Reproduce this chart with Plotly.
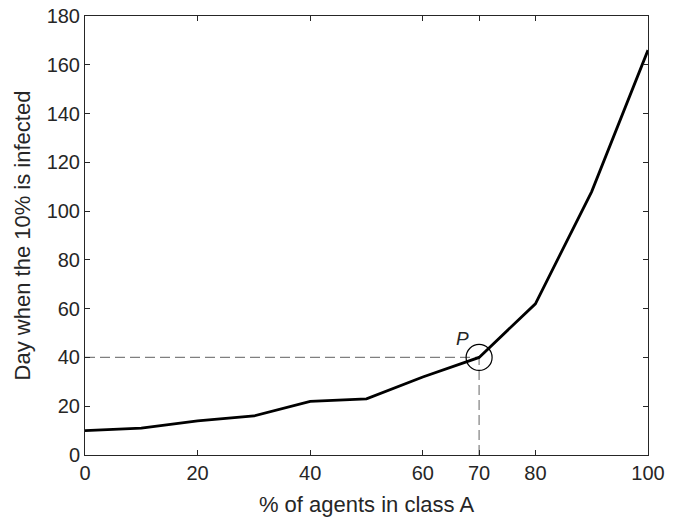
import plotly.graph_objects as go

x_pct = [0, 10, 20, 30, 40, 50, 60, 70, 80, 90, 100]
day_infected = [10, 11, 14, 16, 22, 23, 32, 40, 62, 108, 166]
x_ticks = [0, 20, 40, 60, 70, 80, 100]
y_ticks = [0, 20, 40, 60, 80, 100, 120, 140, 160, 180]
p_x, p_y = 70, 40

fig = go.Figure()
fig.add_trace(go.Scatter(x=[0, p_x], y=[p_y, p_y], mode="lines",
                         line=dict(color="#7f7f7f", width=1.2, dash="10px,5px"), showlegend=False))
fig.add_trace(go.Scatter(x=[p_x, p_x], y=[0, p_y], mode="lines",
                         line=dict(color="#7f7f7f", width=1.2, dash="10px,5px"), showlegend=False))
fig.add_trace(go.Scatter(x=x_pct, y=day_infected, mode="lines",
                         line=dict(color="black", width=2.8), showlegend=False))
fig.add_trace(go.Scatter(x=[p_x], y=[p_y], mode="markers",
                         marker=dict(symbol="circle-open", size=26, color="black",
                                     line=dict(width=1.2, color="black")),
                         showlegend=False))
fig.add_annotation(x=p_x, y=p_y, text="<i>P</i>", showarrow=False,
                   xshift=-17, yshift=19, font=dict(size=19, color="#262626"))

axis_common = dict(showline=True, linecolor="#262626", linewidth=1, mirror="ticks",
                   ticks="inside", ticklen=5, tickcolor="#262626", showgrid=False,
                   zeroline=False, automargin=False,
                   tickfont=dict(size=20, color="#262626"))
fig.update_xaxes(range=[0, 100], tickvals=x_ticks,
                 title=dict(text="% of agents in class A", font=dict(size=22, color="#262626"), standoff=13),
                 **axis_common)
fig.update_yaxes(range=[0, 180], tickvals=y_ticks,
                 title=dict(text="Day when the 10% is infected", font=dict(size=22, color="#262626"), standoff=9),
                 **axis_common)
fig.update_layout(width=679, height=518, margin=dict(l=85, r=31, t=16, b=63),
                  plot_bgcolor="white", paper_bgcolor="white",
                  font=dict(family="Liberation Sans, Arial, sans-serif"))
fig.write_html("out.html", config={"displayModeBar": False},
               post_script="document.body.style.margin='0';")
